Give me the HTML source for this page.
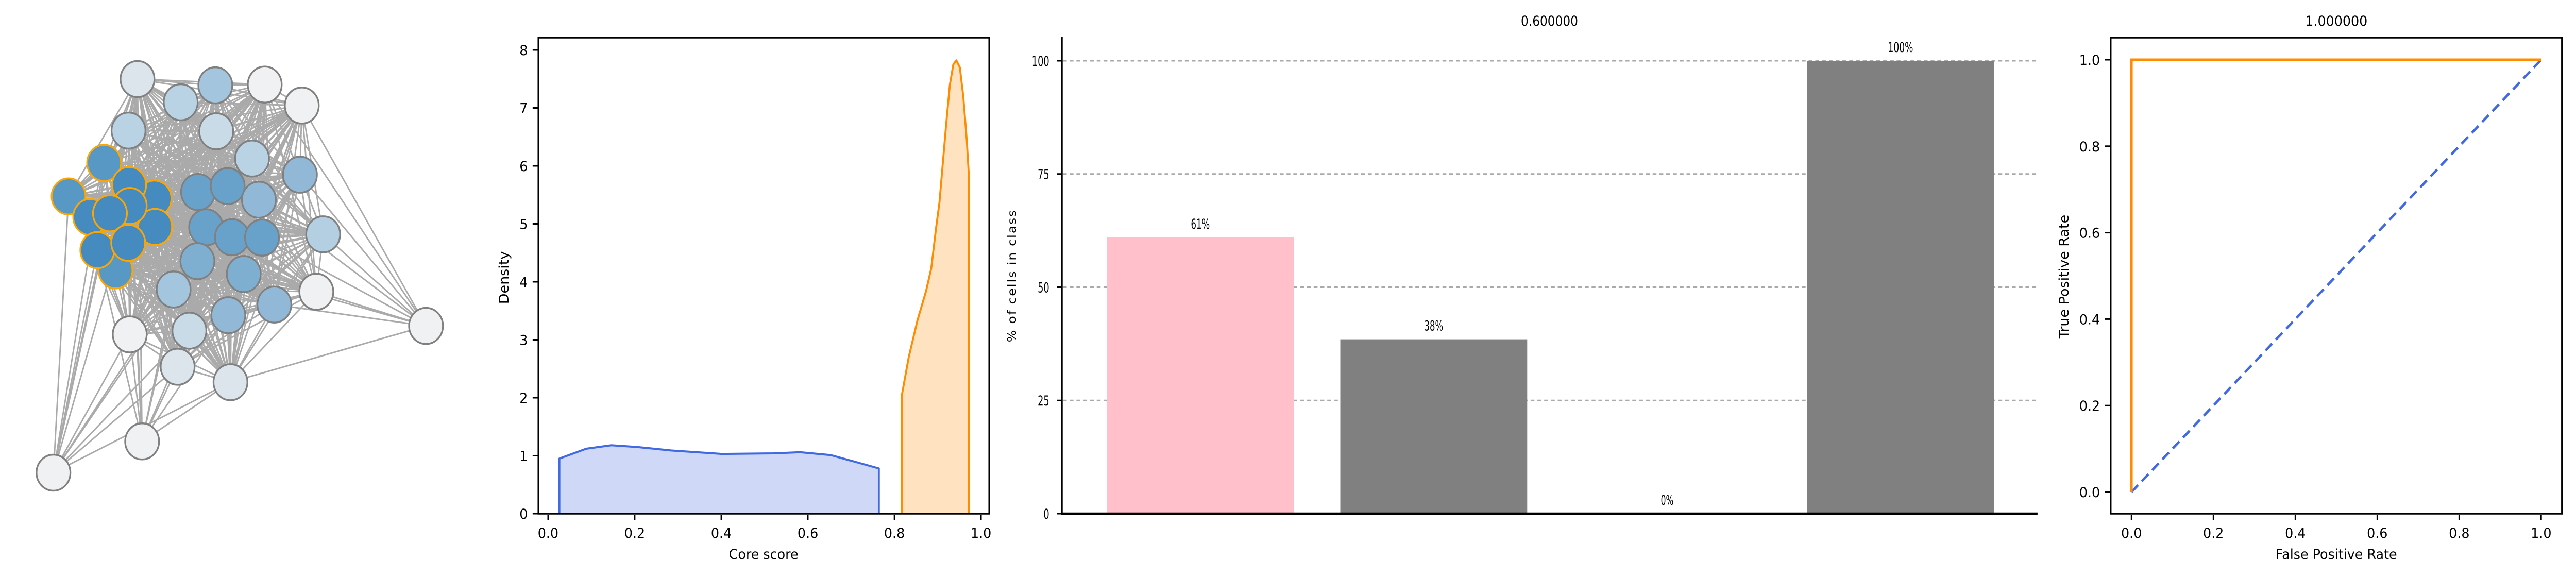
<!DOCTYPE html>
<html><head><meta charset="utf-8"><style>
html,body{margin:0;padding:0;background:#fff;overflow:hidden;width:100%;height:100%;}
svg{display:block;width:100vw;height:100vh;font-family:"DejaVu Sans","Liberation Sans",sans-serif;}
</style></head><body>
<svg id="fig" viewBox="0 0 5320 1120" preserveAspectRatio="none" xmlns="http://www.w3.org/2000/svg">
<g id="net"></g>
<g id="dens"></g>
<g id="bars"></g>
<g id="roc"></g>
</svg>
<script>
// ---------- data ----------
const nodeX=[445,585,697,857,977,416,700,816,971,641,737,838,1046,667,751,848,639,789,562,1024,888,739,613,420,575,746,1379,460,173];
const nodeY=[215,278,232,230,287,355,357,431,475,522,506,543,637,618,645,646,710,745,787,793,828,857,899,909,997,1039,886,1200,1285];
const nodeFill=["#dde5ec","#b9d2e4","#a3c5de","#eff1f3","#eff1f3","#b9d2e4","#cadbe8","#b9d2e4","#91b8d6","#68a2cb","#68a2cb","#91b8d6","#b4cfe2","#68a2cb","#68a2cb","#68a2cb","#7eafd1","#7eafd1","#a3c5de","#eff1f3","#91b8d6","#91b8d6","#cadbe8","#eff1f3","#dde5ec","#dde5ec","#eff1f3","#eff1f3","#eff1f3"];
const coreX=[337,222,374,500,502,292,418,420,356,315,415];
const coreY=[443,534,735,540,617,590,503,560,580,680,660];
const coreFill=["#5898c5","#5898c5","#5898c5","#458bbf","#458bbf","#458bbf","#458bbf","#458bbf","#458bbf","#458bbf","#458bbf"];

const blueX=[0.026,0.088,0.146,0.205,0.284,0.401,0.519,0.582,0.653,0.716,0.764];
const blueY=[0.95,1.12,1.18,1.15,1.09,1.03,1.04,1.06,1.01,0.88,0.78];
const orangeX=[0.817,0.833,0.853,0.873,0.885,0.896,0.904,0.912,0.920,0.928,0.936,0.943,0.951,0.959,0.967,0.972];
const orangeY=[2.04,2.7,3.33,3.84,4.23,4.92,5.37,6.07,6.76,7.4,7.75,7.82,7.7,7.2,6.45,5.82];
const densXTicks=[0,0.2,0.4,0.6,0.8,1.0];
const densYTicks=[0,1,2,3,4,5,6,7,8];

const barCats=["c1","c2","c3","c4"];
const barVals=[61,38.5,0,100];
const barLabels=["61%","38%","0%","100%"];
const barColors=["#ffc0cb","#808080","#808080","#808080"];
const barYTicks=[0,25,50,75,100];

const rocFpr=[0,0,1];
const rocTpr=[0,1,1];
const diagX=[0,1];
const diagY=[0,1];
const rocTicks=[0,0.2,0.4,0.6,0.8,1.0];

const NS="http://www.w3.org/2000/svg";
function mk(parent,tag,attrs,text){const e=document.createElementNS(NS,tag);for(const k in attrs)e.setAttribute(k,attrs[k]);if(text!==undefined)e.textContent=text;parent.appendChild(e);return e;}

// ---------- network ----------
const net=document.getElementById('net');
const sx=0.638,sy=0.714;
const all=[];
nodeX.forEach((x,i)=>all.push({x:x*sx,y:nodeY[i]*sy,f:nodeFill[i],core:false,i:i}));
coreX.forEach((x,i)=>all.push({x:x*sx,y:coreY[i]*sy,f:coreFill[i],core:true,i:100+i}));
const periph=[26,27,28];
const periphLinks={26:[4,8,12,19,20,25,11,17,15,3],27:[25,24,23,22,18,0,5,37,39,21,9],28:[27,25,24,23,18,0,5,30,31,39,16,22,37]};
const eg=mk(net,'g',{});


for(let a=0;a<all.length;a++){for(let b=a+1;b<all.length;b++){
  const A=all[a],B=all[b];
  const pa=periph.includes(A.i),pb=periph.includes(B.i);
  if(pa||pb){
    const p=pa?A.i:B.i, o=pa?B:A;
    const key=o.core?30+(o.i-100):o.i;
    if(!periphLinks[p].includes(key)&&!periphLinks[p].includes(o.i))continue;
  }
  const l=mk(eg,'line',{x1:A.x,y1:A.y,x2:B.x,y2:B.y,stroke:'#aaaaaa','stroke-width':3});
  
  
}}
all.forEach(n=>{
  const c=mk(net,'circle',{cx:n.x,cy:n.y,r:35,fill:n.f,stroke:n.core?'#ffa500':'#808080','stroke-width':3.5});
  
  
});

// ---------- density ----------
const dens=document.getElementById('dens');
const dx=v=>1132+894*v, dy=v=>997-112.5*v;
function area(xs,ys,fill,stroke,name){
  let d=`M${dx(xs[0])},${dy(0)}`;
  xs.forEach((x,i)=>d+=` L${dx(x)},${dy(ys[i])}`);
  d+=` L${dx(xs[xs.length-1])},${dy(0)}`;
  const p=mk(dens,'path',{d:d,fill:fill,stroke:stroke,'stroke-width':4,'stroke-linejoin':'round'});
  
  
}
area(blueX,blueY,'rgba(65,105,225,0.25)','#4169e1','density-blue');
area(orangeX,orangeY,'rgba(255,140,0,0.25)','#ff8c00','density-orange');
mk(dens,'rect',{x:1112,y:73,width:931,height:924,fill:'none',stroke:'#000','stroke-width':3.5});
densXTicks.forEach(t=>{
  mk(dens,'line',{x1:dx(t),y1:999,x2:dx(t),y2:1010,stroke:'#000','stroke-width':3});
  const tx=mk(dens,'text',{x:dx(t),y:1044,'font-size':27,'text-anchor':'middle'},t.toFixed(1));
  
  
});
densYTicks.forEach(t=>{
  mk(dens,'line',{x1:1100,y1:dy(t),x2:1111,y2:dy(t),stroke:'#000','stroke-width':3});
  const tx=mk(dens,'text',{x:1090,y:dy(t)+10,'font-size':27,'text-anchor':'end'},String(t));
  
  
});
let t1=mk(dens,'text',{x:1577,y:1085,'font-size':27,'text-anchor':'middle'},'Core score');

let t2=mk(dens,'text',{x:1050,y:539,'font-size':27,'text-anchor':'middle',transform:'rotate(-90 1050 539)'},'Density');


// ---------- bars ----------
const bars=document.getElementById('bars');
const by=v=>997-8.79*v;
const bx=i=>2479+482*i;
barYTicks.forEach(t=>{
  if(t>0){const g=mk(bars,'line',{x1:2195,y1:by(t),x2:4208,y2:by(t),stroke:'#aaaaaa','stroke-width':3,'stroke-dasharray':'8,6'});
  }
  mk(bars,'line',{x1:2183,y1:by(t),x2:2193,y2:by(t),stroke:'#000','stroke-width':3});
  const tx=mk(bars,'text',{x:2167,y:by(t)+10,'font-size':27,'text-anchor':'end',textLength:String(t).length*12,lengthAdjust:'spacingAndGlyphs'},String(t));
  
});
barCats.forEach((c,i)=>{
  const r=mk(bars,'rect',{x:bx(i)-193,y:by(barVals[i]),width:386,height:997-by(barVals[i]),fill:barColors[i]});
  
  const tx=mk(bars,'text',{x:bx(i),y:by(barVals[i])-17,'font-size':27,'text-anchor':'middle',textLength:barLabels[i].length*13,lengthAdjust:'spacingAndGlyphs'},barLabels[i]);
  
});
mk(bars,'line',{x1:2193,y1:72,x2:2193,y2:999,stroke:'#000','stroke-width':3.5});
mk(bars,'line',{x1:2191,y1:997,x2:4208,y2:997,stroke:'#000','stroke-width':4.5});
let t3=mk(bars,'text',{x:3200,y:50,'font-size':27,'text-anchor':'middle',textLength:118,lengthAdjust:'spacingAndGlyphs'},'0.600000');

let t4=mk(bars,'text',{x:2098,y:535,'font-size':25,'text-anchor':'middle','letter-spacing':'2',transform:'rotate(-90 2098 535)'},'% of cells in class');


// ---------- roc ----------
const roc=document.getElementById('roc');
const rx=v=>4402+846*v, ry=v=>955-839*v;
let dl=mk(roc,'polyline',{points:diagX.map((x,i)=>rx(x)+','+ry(diagY[i])).join(' '),fill:'none',stroke:'#4169e1','stroke-width':5,'stroke-dasharray':'19,11'});

let rl=mk(roc,'polyline',{points:rocFpr.map((x,i)=>rx(x)+','+ry(rocTpr[i])).join(' '),fill:'none',stroke:'#ff8c00','stroke-width':5});

mk(roc,'rect',{x:4359,y:73,width:932,height:924,fill:'none',stroke:'#000','stroke-width':3.5});
rocTicks.forEach(t=>{
  mk(roc,'line',{x1:rx(t),y1:999,x2:rx(t),y2:1010,stroke:'#000','stroke-width':3});
  const a=mk(roc,'text',{x:rx(t),y:1044,'font-size':27,'text-anchor':'middle'},t.toFixed(1));
  
  mk(roc,'line',{x1:4347,y1:ry(t),x2:4358,y2:ry(t),stroke:'#000','stroke-width':3});
  const b=mk(roc,'text',{x:4337,y:ry(t)+10,'font-size':27,'text-anchor':'end'},t.toFixed(1));
  
});
let t5=mk(roc,'text',{x:4825,y:50,'font-size':27,'text-anchor':'middle'},'1.000000');

let t6=mk(roc,'text',{x:4825,y:1085,'font-size':27,'text-anchor':'middle'},'False Positive Rate');

let t7=mk(roc,'text',{x:4272,y:537,'font-size':27,'text-anchor':'middle',transform:'rotate(-90 4272 537)'},'True Positive Rate');

</script>
</body></html>
